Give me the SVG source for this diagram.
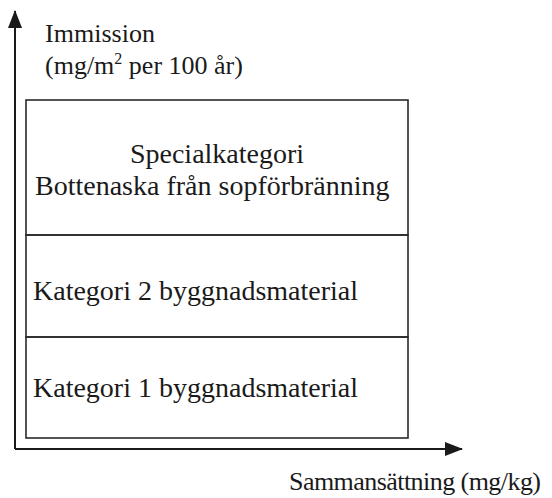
<svg xmlns="http://www.w3.org/2000/svg" width="552" height="498" viewBox="0 0 552 498">
  <style>
    .lbl { font-family: "Liberation Serif", "Times New Roman", serif; font-size: 26px; fill: #1a1a1a; }
    .cat { font-family: "Liberation Serif", "Times New Roman", serif; font-size: 28px; fill: #1a1a1a; }
    .box { fill: none; stroke: #2a2a2a; stroke-width: 1.6; }
    .axis { fill: none; stroke: #1a1a1a; stroke-width: 2; }
  </style>
  <defs>
    <marker id="arrow" viewBox="0 0 18 14" refX="17" refY="7" markerWidth="18" markerHeight="14" markerUnits="userSpaceOnUse" orient="auto">
      <path d="M0,0 L18,7 L0,14 Z" fill="#1a1a1a"/>
    </marker>
  </defs>

  <!-- axes -->
  <g id="connectors">
    <path class="axis" d="M15,449 L15,11" marker-end="url(#arrow)"/>
    <path class="axis" d="M15,449 L462,449" marker-end="url(#arrow)"/>
  </g>

  <!-- axis labels -->
  <g id="y-label">
    <text class="lbl" x="45" y="42" textLength="110">Immission</text>
    <text class="lbl" x="45" y="74">(mg/m<tspan font-size="16" dy="-10">2</tspan><tspan dy="10"> per 100 år)</tspan></text>
  </g>
  <g id="x-label">
    <text class="lbl" x="289" y="490" textLength="252">Sammansättning (mg/kg)</text>
  </g>

  <!-- category stack -->
  <g id="special">
    <rect class="box" x="26" y="100" width="382" height="135"/>
    <text class="cat" x="217" y="163" text-anchor="middle">Specialkategori</text>
    <text class="cat" x="35" y="195">Bottenaska från sopförbränning</text>
  </g>
  <g id="kategori2">
    <rect class="box" x="26" y="235" width="382" height="102"/>
    <text class="cat" x="33" y="300">Kategori 2 byggnadsmaterial</text>
  </g>
  <g id="kategori1">
    <rect class="box" x="26" y="337" width="382" height="101"/>
    <text class="cat" x="33" y="397">Kategori 1 byggnadsmaterial</text>
  </g>
</svg>
